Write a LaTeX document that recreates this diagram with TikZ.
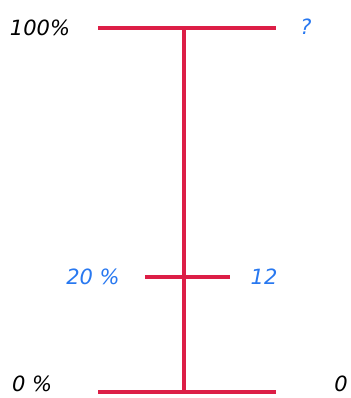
\documentclass[tikz,border=0pt]{standalone}
\usepackage{fontspec}
\setsansfont{DejaVu Sans}
\usetikzlibrary{positioning}
\definecolor{barred}{HTML}{DC1E46}
\definecolor{lblblue}{HTML}{2878F0}
\tikzset{
  bar/.style={line width=3.6pt,barred},
  lbl/.style={inner sep=1pt,font=\sffamily\itshape\fontsize{21}{21}\selectfont},
  vallbl/.style={lbl,lblblue}
}

\begin{document}
\begin{tikzpicture}[x=1pt,y=-1pt]
\useasboundingbox (0,0) rectangle (350,398);
% bars
\coordinate (topl) at (98,28);
\coordinate (topr) at (276,28);
\coordinate (topm) at (184,28);
\coordinate (midl) at (145,277);
\coordinate (midr) at (230,277);
\coordinate (midm) at (184,277);
\coordinate (botl) at (98,392);
\coordinate (botr) at (276,392);
\coordinate (botm) at (184,392);
\draw[bar] (topl)--(topr);
\draw[bar] (midl)--(midr);
\draw[bar] (botl)--(botr);
\draw[bar] (topm)--(botm);
% labels
\node[lbl] (pct100) at (40,28) {100\%};
\node[vallbl] (q) at (306,27) {?};
\node[vallbl] (pct20) at (93,277) {20 \%};
\node[vallbl] (v12) at (264,277) {12};
\node[lbl] (pct0) at (32,384) {0 \%};
\node[lbl] (v0) at (341,384) {0};
\end{tikzpicture}
\end{document}
